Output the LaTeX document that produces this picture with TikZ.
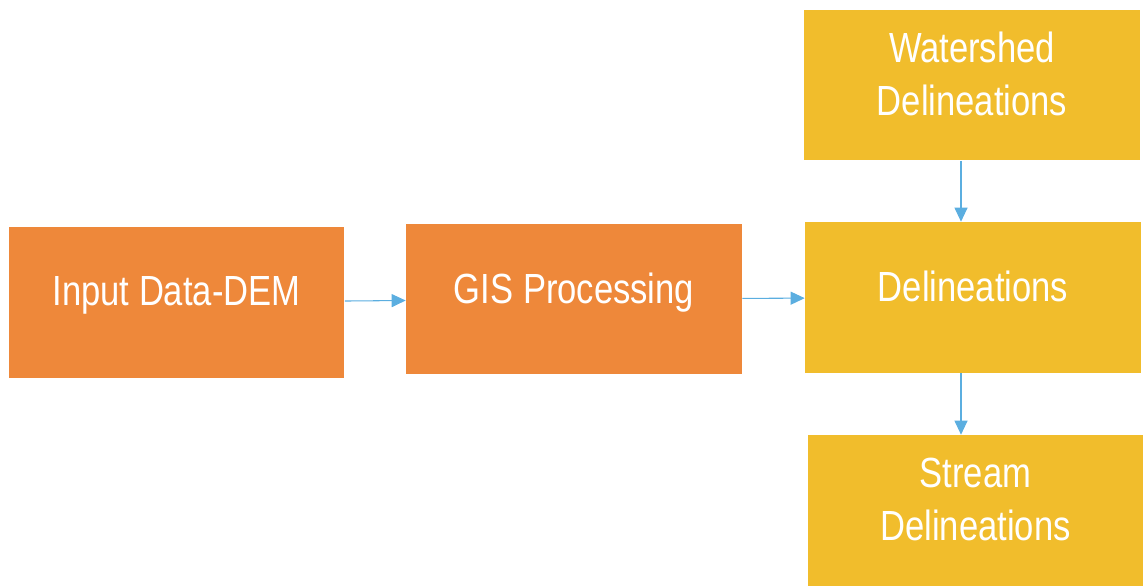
\documentclass[tikz,border=0pt]{standalone}
\usepackage{fontspec}
\setmainfont[FakeStretch=0.82]{Liberation Sans}
\usetikzlibrary{positioning,arrows.meta}

\definecolor{boxorange}{HTML}{EE883A}
\definecolor{boxgold}{HTML}{F1BD2C}
\definecolor{flowblue}{HTML}{5BAEE0}

\tikzset{
  stage/.style={minimum width=6.72cm, minimum height=3.02cm, inner sep=0pt,
    text depth=0.45cm, align=center, text=white, font=\fontsize{24}{30}\selectfont},
  stageA/.style={stage, fill=boxorange},
  stageB/.style={stage, fill=boxgold},
  flow/.style={draw=flowblue, line width=0.6pt, -{Triangle[length=0.28cm,width=0.26cm]}}
}

\begin{document}
\begin{tikzpicture}[x=0.02cm, y=-0.02cm]
    % Fix the page size
    \useasboundingbox (0,0) rectangle (1145,586);

    % Draw the processing boxes
    \node[stageA] (dem) at (176.5,302.5) {Input Data-DEM};
    \node[stageA] (gis) at (574,299) {GIS Processing};

    % Draw the output boxes
    \node[stageB] (wshed) at (972,85) {Watershed\\Delineations};
    \node[stageB] (delin) at (973,297.5) {Delineations};
    \node[stageB] (stream) at (975.5,510.5) {Stream\\Delineations};

    % Draw connecting arrows
    \draw[flow] (dem) -- (gis);
    \draw[flow] (gis) -- (delin);
    \draw[flow] ([xshift=-0.22cm]wshed.south) -- ([xshift=-0.22cm]wshed.south |- delin.north);
    \draw[flow] ([xshift=-0.24cm]delin.south) -- ([xshift=-0.24cm]delin.south |- stream.north);

  \end{tikzpicture}
\end{document}
